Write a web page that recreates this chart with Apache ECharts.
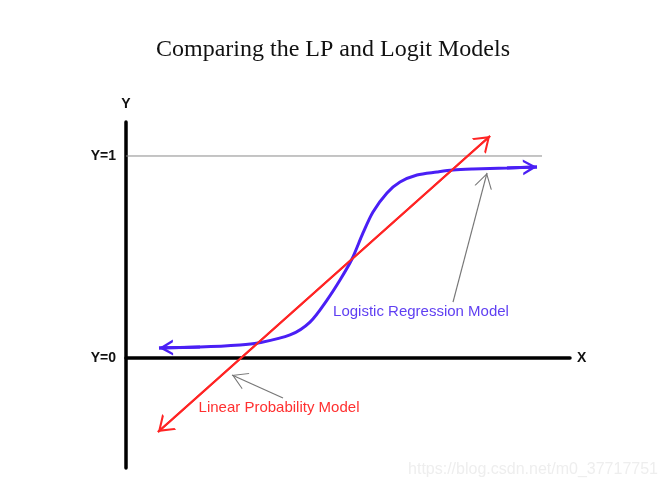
<!DOCTYPE html>
<html>
<head>
<meta charset="utf-8">
<script src="https://cdn.jsdelivr.net/npm/echarts@6/dist/echarts.min.js"></script>
<style>html,body{margin:0;padding:0;background:#fff;}#c{width:666px;height:491px;}</style>
</head>
<body>
<div id="c"></div>
<script>
// ---- data ----
const titleText = 'Comparing the LP and Logit Models';
const yTickValues = [0, 1];
const yTickLabels = ['Y=0', 'Y=1'];
const lpX = [0.72, 8.2];
const lpY = [-0.366, 1.099];
const logitX = [0.743, 1.667, 2.568, 2.973, 3.694, 4.144, 4.527, 4.820, 5.090, 5.338, 5.563, 5.878, 6.171, 6.554, 7.005, 7.365, 7.815, 8.581, 9.257];
const logitY = [0.050, 0.054, 0.064, 0.074, 0.114, 0.178, 0.287, 0.386, 0.490, 0.619, 0.723, 0.817, 0.871, 0.906, 0.921, 0.931, 0.936, 0.941, 0.946];
const oneLineX = [0, 9.37];
const oneLineY = [1, 1];
const logitNoteFrom = [7.365, 0.277], logitNoteTo = [8.131, 0.916];
const lpNoteFrom = [3.536, -0.198], lpNoteTo = [2.387, -0.084];
const logitLabel = 'Logistic Regression Model', logitLabelAt = [6.644, 0.228];
const lpLabel = 'Linear Probability Model', lpLabelAt = [3.446, -0.248];
const watermark = 'https://blog.csdn.net/m0_37717751';

function chevron(t, tip) {
  return 'path://M50,-100 L50,-100 M0,100 L50,0 L100,100 L' + (100 - t) + ',100 L50,' + tip + ' L' + t + ',100 Z';
}
const redArrow = chevron(12, 24);
const blueArrow = chevron(17, 36);
const grayArrow = chevron(7, 14);

const zip = (xs, ys) => xs.map((x, i) => [x, ys[i]]);
const n = logitX.length;

const chart = echarts.init(document.getElementById('c'), null, {renderer: 'canvas'});
chart.setOption({
  animation: false,
  backgroundColor: '#ffffff',
  title: {
    text: titleText, left: 'center', top: 33,
    textStyle: {fontFamily: 'Liberation Serif', fontWeight: 'normal', fontSize: 24, color: '#111'}
  },
  grid: {left: 126, right: 96, top: 122, bottom: 23},
  xAxis: {
    type: 'value', min: 0, max: 10,
    name: 'X', nameLocation: 'end', nameGap: 7,
    nameTextStyle: {fontFamily: 'Liberation Sans', fontWeight: 'bold', fontSize: 14, color: '#111', verticalAlign: 'middle', align: 'left'},
    axisLine: {show: true, onZero: true, lineStyle: {color: '#000', width: 3.5}},
    axisTick: {show: false}, axisLabel: {show: false}, splitLine: {show: false}
  },
  yAxis: {
    type: 'value', min: -0.5446, max: 1.1683,
    name: 'Y', nameLocation: 'end', nameGap: 11,
    nameTextStyle: {fontFamily: 'Liberation Sans', fontWeight: 'bold', fontSize: 14, color: '#111', align: 'center'},
    axisLine: {show: true, lineStyle: {color: '#000', width: 3.5}},
    axisTick: {show: false},
    axisLabel: {
      show: true, customValues: yTickValues, margin: 10,
      formatter: v => yTickLabels[yTickValues.indexOf(v)] || '',
      fontFamily: 'Liberation Sans', fontWeight: 'bold', fontSize: 14, color: '#111'
    },
    splitLine: {show: false}
  },
  series: [
    {
      type: 'line', data: zip(oneLineX, oneLineY), symbol: 'none', silent: true,
      lineStyle: {color: '#8a8a8a', width: 1}
    },
    {
      type: 'line', data: zip(lpX, lpY), symbol: 'none', silent: true,
      lineStyle: {color: '#ff2424', width: 2},
      markLine: {
        silent: true, symbol: [redArrow, redArrow], symbolSize: [21, 30],
        label: {show: false}, lineStyle: {color: '#ff2424', width: 2, type: 'solid'},
        data: [[{coord: [lpX[0], lpY[0]]}, {coord: [lpX[1], lpY[1]]}]]
      }
    },
    {
      type: 'line', data: zip(logitX, logitY), symbol: 'none', smooth: 0.3, silent: true,
      lineStyle: {color: '#4a1ff5', width: 3},
      markLine: {
        silent: true, symbol: ['none', blueArrow], symbolSize: [16, 28],
        label: {show: false}, lineStyle: {color: '#4a1ff5', width: 3, type: 'solid'},
        data: [
          [{coord: [logitX[1], logitY[1]]}, {coord: [logitX[0], logitY[0]]}],
          [{coord: [logitX[n - 2], logitY[n - 2]]}, {coord: [logitX[n - 1], logitY[n - 1]]}]
        ]
      },
      markPoint: {
        silent: true, symbol: 'circle', symbolSize: 0,
        data: [
          {coord: logitLabelAt, label: {show: true, position: 'inside', formatter: logitLabel, color: '#5f3ff2', fontFamily: 'Liberation Sans', fontSize: 15}},
          {coord: lpLabelAt, label: {show: true, position: 'inside', formatter: lpLabel, color: '#ff3030', fontFamily: 'Liberation Sans', fontSize: 15}}
        ]
      }
    },
    {
      type: 'line', data: [], symbol: 'none', silent: true,
      markLine: {
        silent: true, symbol: ['none', grayArrow], symbolSize: [18, 30],
        label: {show: false}, lineStyle: {color: '#777', width: 1.2, type: 'solid'},
        data: [
          [{coord: logitNoteFrom}, {coord: logitNoteTo}],
          [{coord: lpNoteFrom}, {coord: lpNoteTo}]
        ]
      }
    }
  ],
  graphic: [{
    type: 'text', right: 8, top: 462, silent: true,
    style: {text: watermark, fill: '#eeeeee', font: '16px "Liberation Sans"'}
  }]
});
</script>
</body>
</html>
